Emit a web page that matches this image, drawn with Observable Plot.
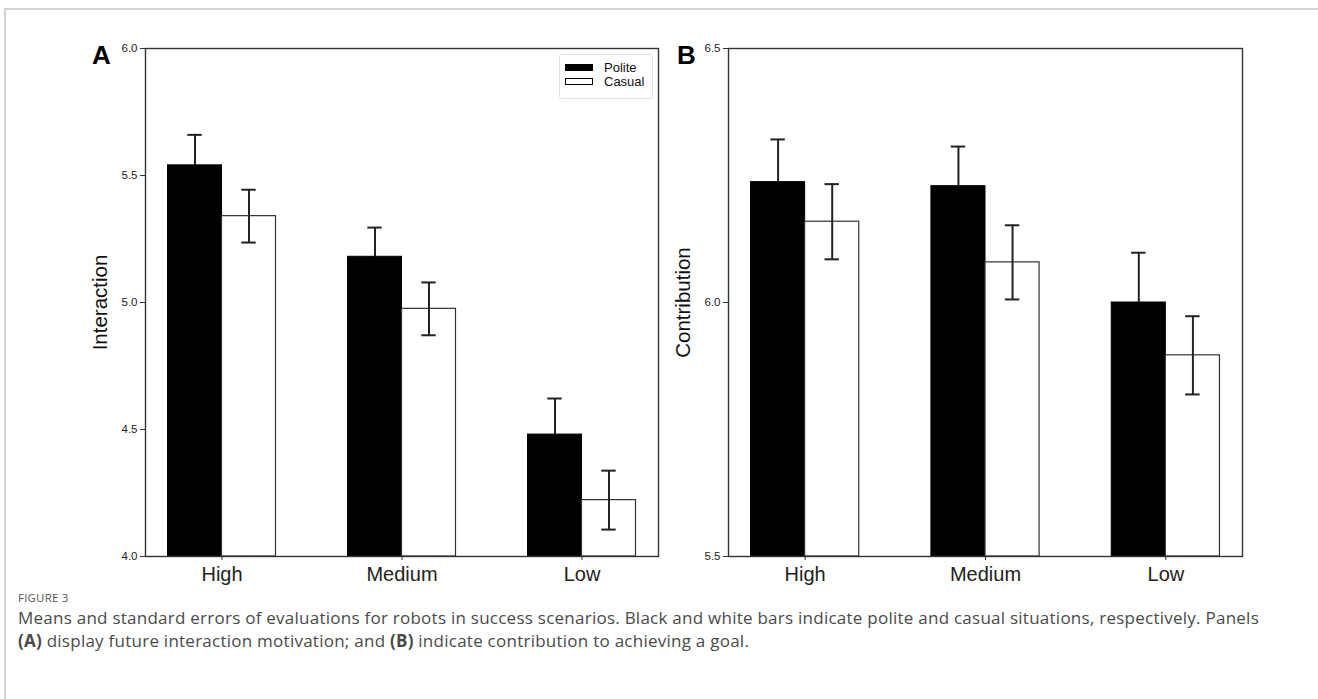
<!DOCTYPE html>
<html>
<head>
<meta charset="utf-8">
<script src="https://cdn.jsdelivr.net/npm/d3@7"></script>
<script src="https://cdn.jsdelivr.net/npm/@observablehq/plot@0.6"></script>
<style>
  html, body { margin: 0; padding: 0; background: #fff; }
  #page { position: relative; width: 1318px; height: 699px; overflow: hidden; font-family: "Liberation Sans", Arial, sans-serif; }
  #border { position: absolute; left: 4px; top: 8px; width: 1400px; height: 800px; border-top: 2px solid #d4d4d4; border-left: 2px solid #d4d4d4; }
  .panel { position: absolute; top: 0; }
  .letter { position: absolute; font-weight: bold; font-size: 26px; line-height: 1; color: #000; }
  #legend { position: absolute; left: 559px; top: 54px; width: 92px; height: 43px; border: 1px solid #e2e2e2; border-radius: 3px; background: #fff; font-size: 13px; color: #111; }
  .lrow { position: absolute; left: 5px; height: 14px; display: flex; align-items: center; }
  .sw { width: 28px; height: 7px; margin-right: 11px; box-sizing: border-box; }
  #caption { position: absolute; left: 18px; top: 589px; font-family: "Open Sans", "Noto Sans", sans-serif; color: #4a4a4a; }
  #caption .fig { font-size: 11.5px; line-height: 17px; letter-spacing: 0.2px; color: #555; margin-bottom: 0px; }
  #caption .line { font-size: 17px; line-height: 23px; white-space: nowrap; letter-spacing: 0.25px; }
</style>
</head>
<body>
<div id="page">
  <div id="border"></div>
  <div id="panelA" class="panel" style="left:0px"></div>
  <div id="panelB" class="panel" style="left:660px"></div>
  <div class="letter" style="left:92px; top:42px">A</div>
  <div class="letter" style="left:677px; top:42px">B</div>
  <div id="legend">
    <div class="lrow" style="top:5px"><div class="sw" style="background:#000"></div><span>Polite</span></div>
    <div class="lrow" style="top:19px"><div class="sw" style="background:#fff;border:1px solid #000"></div><span>Casual</span></div>
  </div>
  <div id="caption">
    <div class="fig">FIGURE 3</div>
    <div class="line">Means and standard errors of evaluations for robots in success scenarios. Black and white bars indicate polite and casual situations, respectively. Panels</div>
    <div class="line"><b>(A)</b> display future interaction motivation; and <b>(B)</b> indicate contribution to achieving a goal.</div>
  </div>
</div>
<script>
// ---- data ----
const groups = ["High", "Medium", "Low"];
const seriesNames = ["Polite", "Casual"];

const interactionPolite   = [5.54, 5.18, 4.48];
const interactionPoliteSE = [0.12, 0.115, 0.142];
const interactionCasual   = [5.34, 4.975, 4.222];
const interactionCasualSE = [0.104, 0.104, 0.116];
const interactionTicks    = [4.0, 4.5, 5.0, 5.5, 6.0];

const contributionPolite   = [6.237, 6.229, 6.0];
const contributionPoliteSE = [0.084, 0.078, 0.098];
const contributionCasual   = [6.159, 6.079, 5.896];
const contributionCasualSE = [0.074, 0.073, 0.077];
const contributionTicks    = [5.5, 6.0, 6.5];

const barW = 0.3;   // bar width in group units
const capW = 0.04;  // half cap width in group units

function rows(means, ses, series) {
  return groups.map((g, i) => ({group: g, i, series, mean: means[i], se: ses[i]}));
}

function errorMarks(data) {
  const s = {stroke: "#222", strokeWidth: 2};
  return [
    Plot.ruleX(data, {x: "xc", y1: d => d.mean - d.se, y2: d => d.mean + d.se, ...s}),
    Plot.ruleY(data, {y: d => d.mean + d.se, x1: d => d.xc - capW, x2: d => d.xc + capW, ...s}),
    Plot.ruleY(data, {y: d => d.mean - d.se, x1: d => d.xc - capW, x2: d => d.xc + capW, ...s})
  ];
}

function panel({polite, casual, ticks, label, width, marginLeft, marginRight}) {
  const y0 = ticks[0], y1 = ticks[ticks.length - 1];
  const P = polite.map(d => ({...d, x1: d.i - barW, x2: d.i, xc: d.i - barW / 2}));
  const C = casual.map(d => ({...d, x1: d.i, x2: d.i + barW, xc: d.i + barW / 2}));
  return Plot.plot({
    width, height: 600,
    marginLeft, marginRight, marginTop: 48, marginBottom: 44,
    style: {fontFamily: "'Liberation Sans', Arial, sans-serif", color: "#222", background: "transparent"},
    x: {domain: [-0.425, 2.425]},
    y: {domain: [y0, y1]},
    marks: [
      ...errorMarks(P),
      Plot.rect(P, {x1: "x1", x2: "x2", y1: y0, y2: "mean", fill: "#000", stroke: "#000", strokeWidth: 1}),
      Plot.rect(C, {x1: "x1", x2: "x2", y1: y0, y2: "mean", fill: "#fff", stroke: "#333", strokeWidth: 1.2}),
      ...errorMarks(C),
      Plot.frame({stroke: "#333", strokeWidth: 1.4}),
      Plot.axisY({ticks, tickFormat: d3.format(".1f"), tickSize: 5, tickPadding: 3, fontSize: 11.5, label: null, stroke: "#333"}),
      Plot.axisX({ticks: [0, 1, 2], tickFormat: i => groups[i], tickSize: 4, tickPadding: 6, fontSize: 20, label: null, stroke: "#333"}),
      Plot.text([label], {text: d => d, frameAnchor: "left", textAnchor: "middle", dx: -45, rotate: -90, fontSize: 20.5, fill: "#111"})
    ]
  });
}

document.getElementById("panelA").append(panel({
  polite: rows(interactionPolite, interactionPoliteSE, seriesNames[0]),
  casual: rows(interactionCasual, interactionCasualSE, seriesNames[1]),
  ticks: interactionTicks, label: "Interaction",
  width: 690, marginLeft: 145, marginRight: 32
}));
document.getElementById("panelB").append(panel({
  polite: rows(contributionPolite, contributionPoliteSE, seriesNames[0]),
  casual: rows(contributionCasual, contributionCasualSE, seriesNames[1]),
  ticks: contributionTicks, label: "Contribution",
  width: 620, marginLeft: 68, marginRight: 38
}));
</script>
</body>
</html>
